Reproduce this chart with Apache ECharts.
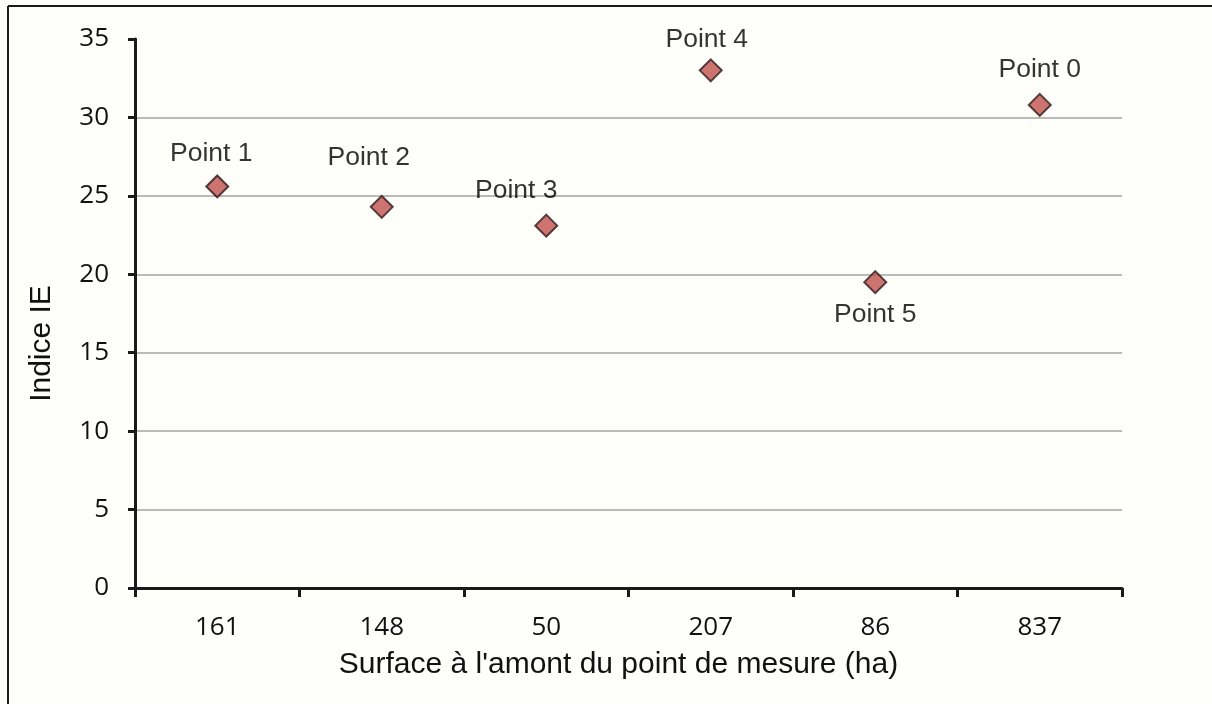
<!DOCTYPE html>
<html>
<head>
<meta charset="utf-8">
<script src="https://cdn.jsdelivr.net/npm/echarts@6/dist/echarts.min.js"></script>
<style>
html,body{margin:0;padding:0;background:#fefefb;}
#chart{width:1212px;height:704px;}
</style>
</head>
<body>
<div id="chart"></div>
<script>
const categories = ['161', '148', '50', '207', '86', '837'];
const pointNames = ['Point 1', 'Point 2', 'Point 3', 'Point 4', 'Point 5', 'Point 0'];
const indiceIE = [25.6, 24.3, 23.1, 33.0, 19.5, 30.8];
const yTicks = [0, 5, 10, 15, 20, 25, 30, 35];

// label placement (layout only)
const labelPlacement = [
  { position: 'top', offset: [-6, -2] },
  { position: 'top', offset: [-13, -19] },
  { position: 'top', offset: [-30, -4] },
  { position: 'top', offset: [-4, 0] },
  { position: 'bottom', offset: [0, 2] },
  { position: 'top', offset: [0, -5] }
];

const chart = echarts.init(document.getElementById('chart'));
const gridColors = yTicks.map((t, i) => i === yTicks.length - 1 ? 'rgba(0,0,0,0)' : '#a3a3a3');

chart.setOption({
  backgroundColor: '#fefefb',
  animation: false,
  graphic: [
    { type: 'line', shape: { x1: 8, y1: 6, x2: 1212, y2: 6 }, style: { stroke: '#1a1a1a', lineWidth: 2 } },
    { type: 'line', shape: { x1: 8, y1: 6, x2: 8, y2: 704 }, style: { stroke: '#1a1a1a', lineWidth: 2 } }
  ],
  grid: { left: 135, right: 90, top: 39, bottom: 116, containLabel: false },
  xAxis: {
    type: 'category',
    data: categories,
    boundaryGap: true,
    name: "Surface à l'amont du point de mesure (ha)",
    nameLocation: 'middle',
    nameGap: 62,
    nameTextStyle: { fontFamily: 'Liberation Sans', fontSize: 30, color: '#111', padding: [0, 20, 0, 0] },
    axisLine: { lineStyle: { color: '#1a1a1a', width: 3 } },
    axisTick: { show: true, alignWithLabel: false, length: 9, lineStyle: { color: '#1a1a1a', width: 3 } },
    axisLabel: { margin: 27, fontFamily: 'Open Sans', fontSize: 26, color: '#111' },
    splitLine: { show: false }
  },
  yAxis: {
    type: 'value',
    min: yTicks[0],
    max: yTicks[yTicks.length - 1],
    interval: 5,
    name: 'Indice IE',
    nameLocation: 'middle',
    nameGap: 78,
    nameTextStyle: { fontFamily: 'Liberation Sans', fontSize: 30, color: '#111', padding: [0, 60, 0, 0] },
    axisLine: { show: true, lineStyle: { color: '#1a1a1a', width: 3 } },
    axisTick: { show: true, length: 7, lineStyle: { color: '#1a1a1a', width: 3 } },
    axisLabel: { margin: 26, fontFamily: 'Open Sans', fontSize: 26, color: '#111' },
    splitLine: { show: true, lineStyle: { color: gridColors, width: 1.5 } }
  },
  series: [{
    type: 'scatter',
    symbol: 'diamond',
    symbolSize: 22,
    itemStyle: { color: '#c0504d', borderColor: '#2a1a1a', borderWidth: 2 },
    label: {
      show: true,
      fontFamily: 'Liberation Sans',
      fontSize: 26.5,
      color: '#000'
    },
    data: indiceIE.map((v, i) => ({
      value: [categories[i], v],
      label: Object.assign({ formatter: pointNames[i] }, labelPlacement[i])
    }))
  }]
});
</script>
</body>
</html>
